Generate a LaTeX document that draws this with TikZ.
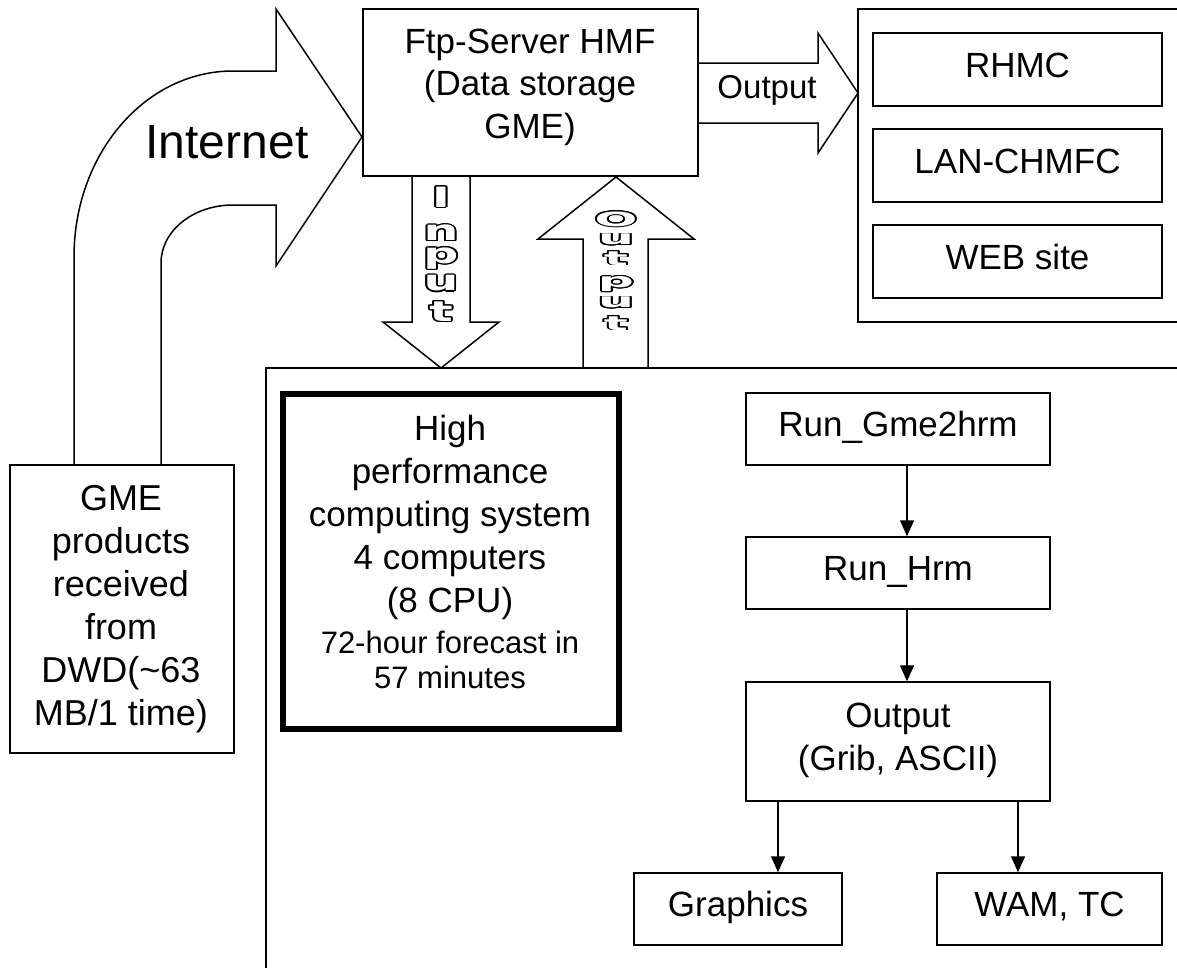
\documentclass[tikz,border=0pt]{standalone}
\usepackage{fontspec}
\usepackage{graphicx}
\setmainfont{Liberation Sans}
\newfontfamily\heavyfont{DejaVu Sans}
\usepackage{contour}
\contourlength{1.1pt}
\usetikzlibrary{arrows.meta}
\newcommand{\inlet}[1]{\scalebox{1.75}[1]{\contour{black}{#1}}}
\newcommand{\outlet}[1]{\scalebox{1.8}[0.7]{\contour{black}{#1}}}
\begin{document}
\begin{tikzpicture}[x=1pt,y=-1pt,line width=1.5pt,
  box/.style={draw,line width=1.5pt,inner sep=0pt,text height=25pt,text depth=10pt,font=\fontsize{35}{42}\selectfont},
  plainbox/.style={draw,line width=1.5pt,inner sep=0pt},
  txt/.style={align=center,inner sep=0pt,anchor=base,font=\fontsize{35}{43}\selectfont},
  flow/.style={-{Triangle[length=16pt,width=14pt]},line width=1.5pt},
  hollowarrow/.style={draw,line width=1.5pt,line join=miter},
  letterstyle/.style={text=white,inner sep=0pt,font=\heavyfont\bfseries\fontsize{28}{28}\selectfont}]
\useasboundingbox (0,0) rectangle (1177,967);
\clip (0,0) rectangle (1177,967);

% GME box
\node[plainbox,minimum width=224pt,minimum height=288pt] (gme) at (122,609) {};
\node[txt,font=\fontsize{36}{43}\selectfont] (gmet) at (121,725) {GME\\products\\received\\from\\DWD(\textasciitilde63\\MB/1 time)};

% Internet curved block arrow
\draw[hollowarrow] (74,465) -- (74,257) .. controls (74,154) and (145,71) .. (233,71) -- (276,71) -- (276,9) -- (362,137) -- (276,266) -- (276,205) -- (233,205) .. controls (193,205) and (161,231) .. (161,263) -- (161,465);
\node[txt,font=\fontsize{48}{48}\selectfont] (inet) at (227,158) {Internet};

% Ftp server
\node[plainbox,minimum width=335pt,minimum height=167pt] (ftp) at (530.5,92.5) {};
\node[txt,font=\fontsize{35}{42.5}\selectfont] (ftpt) at (530,138) {Ftp-Server HMF\\(Data storage\\GME)};

% Output arrow to the right
\draw[hollowarrow] (698,63) -- (818,63) -- (818,33) -- (858,93) -- (818,153) -- (818,123) -- (698,123);
\node[txt,font=\fontsize{33}{33}\selectfont] (outlbl) at (767,98) {Output};

% Right panel
\draw (1190,9) -- (858,9) -- (858,322) -- (1190,322);
\node[box,minimum width=289pt,minimum height=73pt] (rhmc) at (1017.5,69.5) {RHMC};
\node[box,minimum width=289pt,minimum height=73pt] (lan) at (1017.5,165.5) {LAN-CHMFC};
\node[box,minimum width=289pt,minimum height=73pt] (web) at (1017.5,261.5) {WEB site};

% Input arrow (down)
\draw[hollowarrow] (412,176) -- (412,322) -- (383,322) -- (441,368) -- (499,322) -- (470,322) -- (470,176);
\node[letterstyle] (i1) at (441,197.5) {\inlet{I}};
\node[letterstyle] (i2) at (441,233.5) {\inlet{n}};
\node[letterstyle] (i3) at (441,259) {\inlet{p}};
\node[letterstyle] (i4) at (441,284) {\inlet{u}};
\node[letterstyle] (i5) at (441,312) {\inlet{t}};

% Output arrow (up)
\draw[hollowarrow] (583,368) -- (583,239) -- (538,239) -- (616,177) -- (694,239) -- (648,239) -- (648,368);
\node[letterstyle] (o1) at (616,219.5) {\outlet{O}};
\node[letterstyle] (o2) at (616,240) {\outlet{u}};
\node[letterstyle] (o3) at (616,258.5) {\outlet{t}};
\node[letterstyle] (o4) at (616,284.5) {\outlet{p}};
\node[letterstyle] (o5) at (616,303) {\outlet{u}};
\node[letterstyle] (o6) at (616,323.5) {\outlet{t}};

% Big lower panel
\draw (1190,368) -- (266,368) -- (266,980);

% HPC box
\node[draw,line width=6pt,inner sep=0pt,minimum width=336pt,minimum height=335pt] (hpc) at (451,561.5) {};
\node[txt] (hpct) at (450,612) {High\\performance\\computing system\\4 computers\\(8 CPU)};
\node[txt,font=\fontsize{31}{35}\selectfont] (hpcs) at (450,688) {72-hour forecast in\\57 minutes};

% Flow chart
\node[box,minimum width=304pt,minimum height=72pt] (rg) at (898,429) {Run\_Gme2hrm};
\node[box,minimum width=304pt,minimum height=72pt] (rh) at (898,573) {Run\_Hrm};
\node[plainbox,minimum width=304pt,minimum height=119pt] (op) at (898,741.5) {};
\node[txt] (opt) at (898,770) {Output\\(Grib, ASCII)};
\node[box,minimum width=208pt,minimum height=72pt] (gr) at (738,909) {Graphics};
\node[box,minimum width=225pt,minimum height=72pt] (wam) at (1049.5,909) {WAM, TC};

\coordinate (c1) at (907,0);
\coordinate (c2) at (778,0);
\coordinate (c3) at (1018,0);
\draw[flow] (rg.south -| c1) -- (rh.north -| c1);
\draw[flow] (rh.south -| c1) -- (op.north -| c1);
\draw[flow] (op.south -| c2) -- (gr.north -| c2);
\draw[flow] (op.south -| c3) -- (wam.north -| c3);
\end{tikzpicture}
\end{document}
